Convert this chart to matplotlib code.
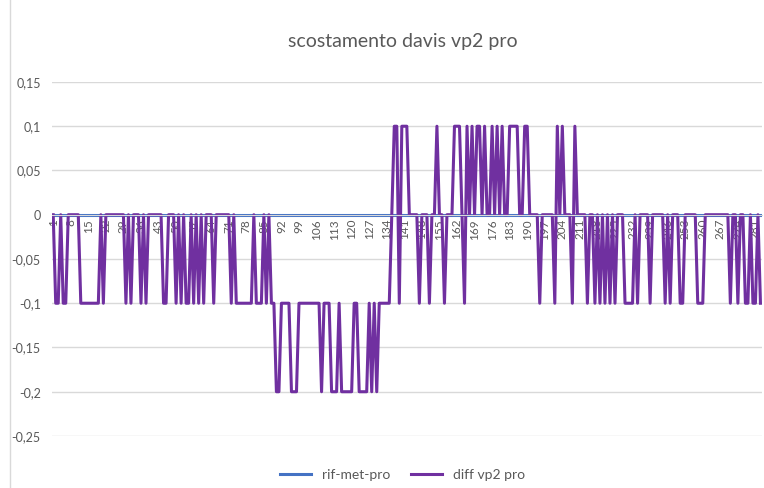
import matplotlib
matplotlib.use("Agg")
from matplotlib import pyplot as plt
from matplotlib.ticker import FuncFormatter
from matplotlib.lines import Line2D

plt.rcParams['font.family'] = ['Lato', 'DejaVu Sans']

# categorie 1..283 (righe del foglio)
categories = list(range(1, 284))

# diff vp2 pro (10 valori per riga)
diff_vp2 = [
    0, -0.1, -0.1, 0, -0.1, -0.1, 0, 0, 0, 0,                      # 1
    0, -0.1, -0.1, -0.1, -0.1, -0.1, -0.1, -0.1, -0.1, 0,          # 11
    -0.1, 0, 0, 0, 0, 0, 0, 0, 0, -0.1,                            # 21
    0, -0.1, 0, 0, 0, -0.1, 0, -0.1, 0, 0,                         # 31
    0, 0, 0, 0, -0.1, -0.1, 0, 0, 0, -0.1,                         # 41
    0, -0.1, 0, -0.1, -0.1, 0, -0.1, 0, -0.1, 0,                   # 51
    -0.1, 0, 0, 0, -0.1, 0, 0, 0, 0, 0,                            # 61
    0, -0.1, 0, -0.1, -0.1, -0.1, -0.1, -0.1, -0.1, -0.1,          # 71
    0, -0.1, -0.1, -0.1, 0, -0.1, 0, -0.1, -0.1, -0.2,             # 81
    -0.2, -0.1, -0.1, -0.1, -0.1, -0.2, -0.2, -0.2, -0.1, -0.1,    # 91
    -0.1, -0.1, -0.1, -0.1, -0.1, -0.1, -0.1, -0.2, -0.1, -0.1,    # 101
    -0.1, -0.2, -0.2, -0.2, -0.1, -0.2, -0.2, -0.2, -0.2, -0.2,    # 111
    -0.1, -0.1, -0.2, -0.2, -0.2, -0.2, -0.1, -0.2, -0.1, -0.2,    # 121
    -0.1, -0.1, -0.1, -0.1, -0.1, 0, 0.1, 0.1, -0.1, 0.1,          # 131
    0.1, 0.1, 0, 0, 0, 0, -0.1, 0, 0, 0,                           # 141
    -0.1, 0, 0, 0.1, 0, 0, -0.1, 0, 0, 0,                          # 151
    0.1, 0.1, 0.1, 0, -0.1, 0.1, 0, 0.1, 0, 0.1,                   # 161
    0.1, 0, 0.1, 0, 0, 0.1, 0, 0.1, 0, 0.1,                        # 171
    0, 0, 0.1, 0.1, 0.1, 0.1, 0, 0, 0.1, 0.1,                      # 181
    0, 0, 0, 0, -0.1, 0, 0, 0, 0, 0,                               # 191
    -0.1, 0.1, 0, 0.1, 0, 0, 0, -0.1, 0.1, 0,                      # 201
    0, 0, 0, -0.1, 0, 0, -0.1, 0, -0.1, 0,                         # 211
    -0.1, 0, -0.1, 0, -0.1, 0, 0, 0, -0.1, -0.1,                   # 221
    -0.1, -0.1, 0, -0.1, 0, 0, 0, 0, -0.1, 0,                      # 231
    0, 0, 0, 0, -0.1, 0, -0.1, 0, 0, 0,                            # 241
    -0.1, -0.1, 0, 0, 0, 0, 0, -0.1, -0.1, -0.1,                   # 251
    0, 0, 0, 0, 0, 0, 0, 0, 0, 0,                                  # 261
    -0.1, 0, 0, -0.1, 0, 0, -0.1, -0.1, 0, -0.1,                   # 271
    -0.1, 0, -0.1,                                                 # 281
]

# rif-met-pro: sempre zero
rif_met = [0] * len(categories)

yticks = [0.15, 0.1, 0.05, 0, -0.05, -0.1, -0.15, -0.2, -0.25]
xtick_labels = categories[::7]

fig = plt.figure(figsize=(7.64, 4.88), dpi=100)
ax = fig.add_axes([0.068, 0.1066, 0.929, 0.7254])

ax.spines['bottom'].set_position(('data', 0))
ax.spines['bottom'].set_color('#D9D9D9')
for s in ['top', 'right', 'left']:
    ax.spines[s].set_visible(False)

ax.plot(categories, rif_met, color='#4472C4', lw=2.2, label='rif-met-pro')
ax.plot(categories, diff_vp2, color='#7030A0', lw=2.2, label='diff vp2 pro')

ax.set_xlim(0.5, len(categories) + 0.5)
ax.set_ylim(-0.25, 0.15)
ax.set_yticks(yticks)
ax.yaxis.set_major_formatter(FuncFormatter(
    lambda v, p: ('%g' % round(v, 2)).replace('.', ',') if abs(v) > 1e-9 else '0'))
ax.grid(axis='y', color='#D9D9D9', lw=1)
ax.set_axisbelow(True)

ax.set_xticks(xtick_labels)
ax.set_xticklabels([str(c) for c in xtick_labels])
ax.tick_params(axis='x', length=0, pad=3, labelsize=8.5, labelcolor='#595959',
               labelrotation=90)
ax.tick_params(axis='y', length=0, pad=8, labelsize=9, labelcolor='#595959')

fig.text(0.527, 0.914, 'scostamento davis vp2 pro', ha='center', va='center',
         fontsize=14, color='#595959')

fig.legend(loc='center', bbox_to_anchor=(0.527, 0.027), ncol=2, frameon=False,
           fontsize=10, handlelength=2.2, columnspacing=1.5, labelcolor='#595959')

fig.add_artist(Line2D([10 / 764, 10 / 764], [0, 1], color='#D9D9D9', lw=1))

fig.savefig('out.png', dpi=100)
